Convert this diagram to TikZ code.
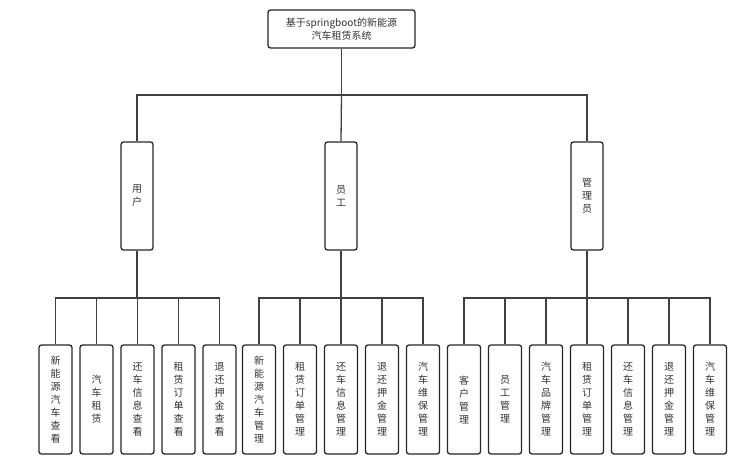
\documentclass[tikz,border=0pt]{standalone}
\usepackage{fontspec}
\setmainfont{Noto Sans CJK SC}
\begin{document}
\begin{tikzpicture}[x=1pt,y=-1pt,
  box/.style={draw=black!85,line width=1.3pt,rounded corners=2.5pt,align=center,inner sep=0pt,font=\fontsize{10}{13}\selectfont,text=black!80},
  leaf/.style={box,minimum width=33pt,minimum height=109pt},
  mid/.style={box,minimum width=32pt,minimum height=108pt},
  ln/.style={draw=black!75,line width=1.3pt}]
\useasboundingbox (0,0) rectangle (748,473);
\node[box,minimum width=147pt,minimum height=38pt] (root) at (341.5,29) {基于springboot的新能源\\汽车租赁系统};
\node[mid] (u) at (137,196) {用\\户};
\node[mid] (e) at (341,196) {员\\工};
\node[mid] (a) at (587,196) {管\\理\\员};
\foreach \n/\x/\t in {u1/55.5/{新\\能\\源\\汽\\车\\查\\看},u2/96.5/{汽\\车\\租\\赁},u3/137.5/{还\\车\\信\\息\\查\\看},u4/178.5/{租\\赁\\订\\单\\查\\看},u5/219.5/{退\\还\\押\\金\\查\\看},
  e1/259/{新\\能\\源\\汽\\车\\管\\理},e2/300/{租\\赁\\订\\单\\管\\理},e3/341/{还\\车\\信\\息\\管\\理},e4/382/{退\\还\\押\\金\\管\\理},e5/423/{汽\\车\\维\\保\\管\\理},
  a1/464/{客\\户\\管\\理},a2/505/{员\\工\\管\\理},a3/546/{汽\\车\\品\\牌\\管\\理},a4/587/{租\\赁\\订\\单\\管\\理},a5/628/{还\\车\\信\\息\\管\\理},a6/669/{退\\还\\押\\金\\管\\理},a7/710/{汽\\车\\维\\保\\管\\理}}
  \node[leaf] (\n) at (\x,399.5) {\t};
\draw[ln] (root.south) -- (341.5,95) coordinate (t);
\draw[ln] (u.north) |- (t) -| (a.north);
\draw[ln] (t) -- (e.north);
\coordinate (ub) at (137,298);
\coordinate (eb) at (341,298);
\coordinate (ab) at (587,298);
\draw[ln] (u.south) -- (ub);
\draw[ln] (e.south) -- (eb);
\draw[ln] (a.south) -- (ab);
\foreach \n in {u1,u2,u3,u4,u5} \draw[ln] (ub) -| (\n.north);
\foreach \n in {e1,e2,e3,e4,e5} \draw[ln] (eb) -| (\n.north);
\foreach \n in {a1,a2,a3,a4,a5,a6,a7} \draw[ln] (ab) -| (\n.north);
\end{tikzpicture}
\end{document}
